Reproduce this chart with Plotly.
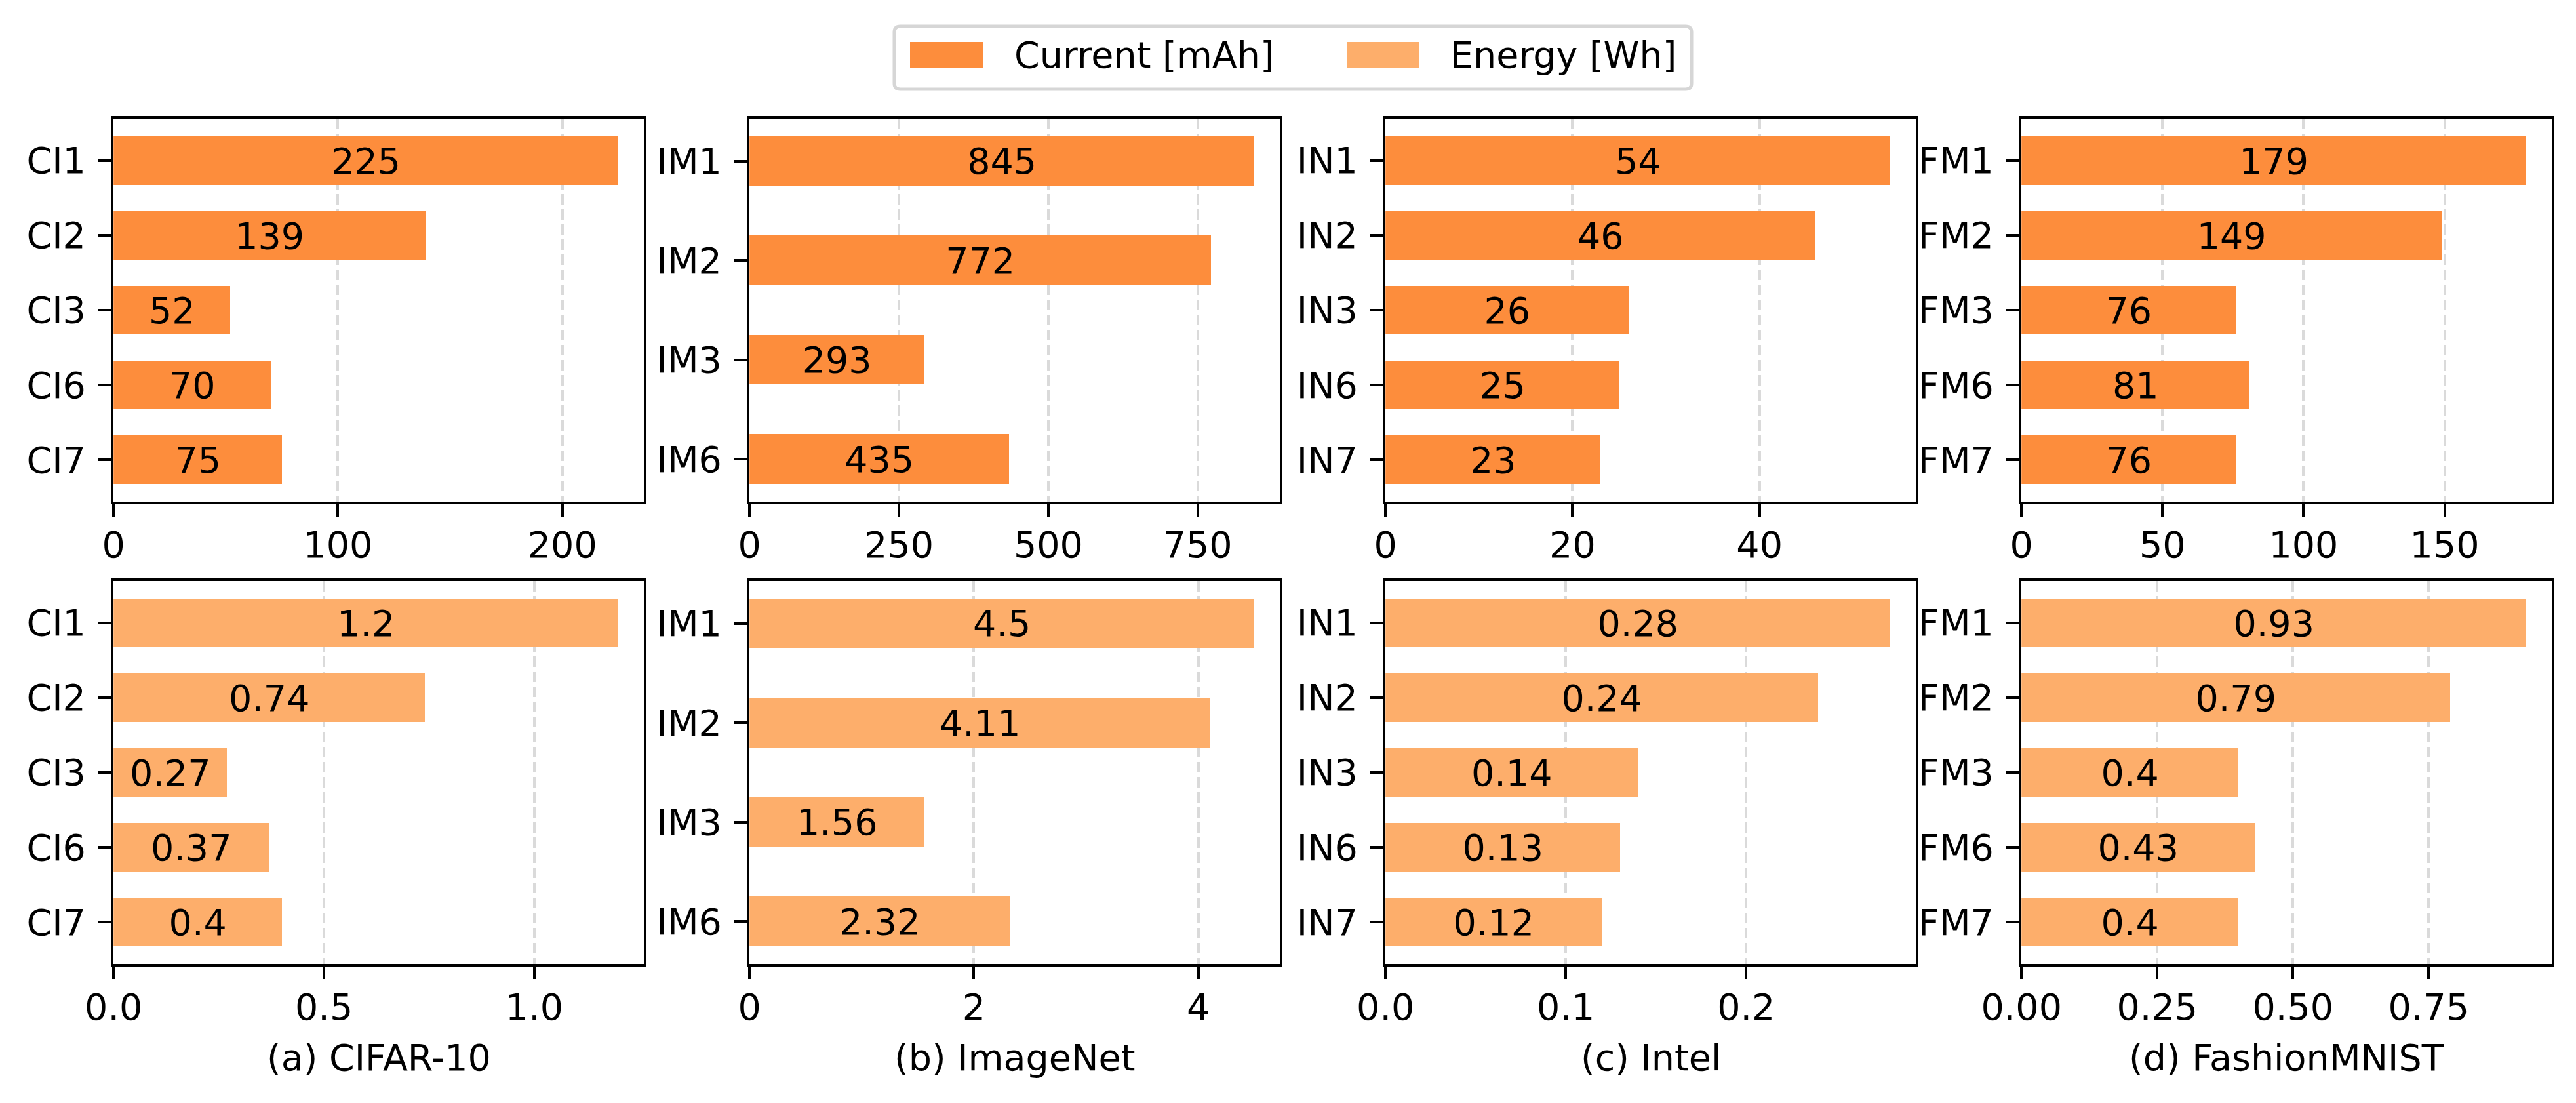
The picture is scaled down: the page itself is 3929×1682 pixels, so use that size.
import plotly.graph_objects as go

# ---------------- data ----------------
DATASET_LABELS = ["(a) CIFAR-10", "(b) ImageNet", "(c) Intel", "(d) FashionMNIST"]

CATS_CIFAR = ["CI1", "CI2", "CI3", "CI6", "CI7"]
CATS_IMAGENET = ["IM1", "IM2", "IM3", "IM6"]
CATS_INTEL = ["IN1", "IN2", "IN3", "IN6", "IN7"]
CATS_FASHION = ["FM1", "FM2", "FM3", "FM6", "FM7"]

CURRENT_CIFAR = [225, 139, 52, 70, 75]
CURRENT_IMAGENET = [845, 772, 293, 435]
CURRENT_INTEL = [54, 46, 26, 25, 23]
CURRENT_FASHION = [179, 149, 76, 81, 76]

ENERGY_CIFAR = [1.2, 0.74, 0.27, 0.37, 0.4]
ENERGY_IMAGENET = [4.5, 4.11, 1.56, 2.32]
ENERGY_INTEL = [0.28, 0.24, 0.14, 0.13, 0.12]
ENERGY_FASHION = [0.93, 0.79, 0.4, 0.43, 0.4]

CURRENT_TICKVALS = [[0, 100, 200], [0, 250, 500, 750], [0, 20, 40], [0, 50, 100, 150]]
CURRENT_TICKTEXT = [["0", "100", "200"], ["0", "250", "500", "750"], ["0", "20", "40"], ["0", "50", "100", "150"]]
ENERGY_TICKVALS = [[0, 0.5, 1.0], [0, 2, 4], [0, 0.1, 0.2], [0, 0.25, 0.5, 0.75]]
ENERGY_TICKTEXT = [["0.0", "0.5", "1.0"], ["0", "2", "4"], ["0.0", "0.1", "0.2"], ["0.00", "0.25", "0.50", "0.75"]]

SERIES_NAMES = ["Current [mAh]", "Energy [Wh]"]

CATS = [CATS_CIFAR, CATS_IMAGENET, CATS_INTEL, CATS_FASHION]
CURRENT = [CURRENT_CIFAR, CURRENT_IMAGENET, CURRENT_INTEL, CURRENT_FASHION]
ENERGY = [ENERGY_CIFAR, ENERGY_IMAGENET, ENERGY_INTEL, ENERGY_FASHION]

# ---------------- style / layout ----------------
W, H = 3929, 1682
FONT = "DejaVu Sans"
FS = 55.5
LW = 4.4
TICKLEN = 19
X_STANDOFF = -5
Y_STANDOFF = 8
COLORS = ["#fd8d3c", "#fdae6b"]
BAR_H = [0.65, 0.5, 0.65, 0.65]

COL_LEFT = [171, 1141, 2111, 3081]
COL_W = 813
ROW_TOP = [179, 884]
ROW_H = 588
LABEL_Y = 1612


def px_x(p):
    return p / W


def px_y(p):
    return 1 - p / H


fig = go.Figure()
layout = {}
inset = LW / 2

for row, (series, tv, tt) in enumerate([(CURRENT, CURRENT_TICKVALS, CURRENT_TICKTEXT),
                                        (ENERGY, ENERGY_TICKVALS, ENERGY_TICKTEXT)]):
    for col in range(4):
        idx = row * 4 + col + 1
        sfx = "" if idx == 1 else str(idx)
        vals = series[col]
        cats = CATS[col]
        h = BAR_H[col]
        fig.add_trace(go.Bar(
            x=vals, y=cats, orientation="h", width=h,
            marker=dict(color=COLORS[row], line=dict(width=0)),
            text=[str(v) for v in vals], textposition="inside",
            insidetextanchor="middle", textangle=0, constraintext="none",
            textfont=dict(family=FONT, size=FS, color="black"),
            xaxis="x" + sfx, yaxis="y" + sfx, showlegend=False,
            hoverinfo="skip",
        ))
        n = len(cats)
        pad = 0.05 * ((n - 1) + h)
        x0 = COL_LEFT[col]
        y0 = ROW_TOP[row]
        layout["xaxis" + sfx] = dict(
            domain=[px_x(x0 + inset), px_x(x0 + COL_W - inset)], anchor="y" + sfx,
            range=[0, 1.05 * max(vals)],
            tickmode="array", tickvals=tv[col], ticktext=tt[col],
            showgrid=True, gridcolor="#dadada", gridwidth=LW, griddash="16px,7px",
            zeroline=False, showline=True, mirror=True, linecolor="black", linewidth=LW,
            ticks="outside", ticklen=TICKLEN, tickwidth=LW, tickcolor="black",
            tickfont=dict(family=FONT, size=FS, color="black"),
            ticklabelstandoff=X_STANDOFF, automargin=False, fixedrange=True,
        )
        layout["yaxis" + sfx] = dict(
            domain=[px_y(y0 + ROW_H - inset), px_y(y0 + inset)], anchor="x" + sfx,
            type="category", categoryorder="array", categoryarray=cats,
            range=[(n - 1) + h / 2 + pad, -h / 2 - pad],
            showgrid=False, zeroline=False, showline=True, mirror=True,
            linecolor="black", linewidth=LW,
            ticks="outside", ticklen=TICKLEN, tickwidth=LW, tickcolor="black",
            tickfont=dict(family=FONT, size=FS, color="black"),
            ticklabelstandoff=Y_STANDOFF, automargin=False, fixedrange=True,
        )

annotations = []
for col in range(4):
    annotations.append(dict(
        x=px_x(COL_LEFT[col] + COL_W / 2), y=px_y(LABEL_Y), xref="paper", yref="paper",
        text=DATASET_LABELS[col], showarrow=False, xanchor="center", yanchor="middle",
        font=dict(family=FONT, size=FS, color="black"),
    ))

# legend (drawn to match the matplotlib legend frame)
LEG_L, LEG_R, LEG_T, LEG_B = 1364, 2580, 40, 136
LEG_CY = 83.5
PATCH_X = [1388, 2054]
PATCH_W = 111
PATCH_H = 39
TEXT_X = [1546, 2211]
r = 9
rx, ry = r / W, r / H
l, rr, t, b = px_x(LEG_L), px_x(LEG_R), px_y(LEG_T), px_y(LEG_B)
path = (f"M{l + rx},{t} L{rr - rx},{t} Q{rr},{t} {rr},{t - ry} "
        f"L{rr},{b + ry} Q{rr},{b} {rr - rx},{b} L{l + rx},{b} Q{l},{b} {l},{b + ry} "
        f"L{l},{t - ry} Q{l},{t} {l + rx},{t} Z")
shapes = [dict(type="path", path=path, xref="paper", yref="paper",
               line=dict(color="#d6d6d6", width=5), fillcolor="white", layer="above")]
for i in range(2):
    shapes.append(dict(type="rect", xref="paper", yref="paper",
                       x0=px_x(PATCH_X[i]), x1=px_x(PATCH_X[i] + PATCH_W),
                       y0=px_y(LEG_CY + PATCH_H / 2), y1=px_y(LEG_CY - PATCH_H / 2),
                       fillcolor=COLORS[i], line=dict(width=0), layer="above"))
    annotations.append(dict(
        x=px_x(TEXT_X[i]), y=px_y(LEG_CY), xref="paper", yref="paper",
        text=SERIES_NAMES[i], showarrow=False, xanchor="left", yanchor="middle",
        font=dict(family=FONT, size=FS, color="black"), borderpad=0,
    ))

fig.update_layout(
    template="none",
    width=W, height=H, autosize=False,
    margin=dict(l=0, r=0, t=0, b=0, pad=0),
    paper_bgcolor="white", plot_bgcolor="white",
    font=dict(family=FONT, size=FS, color="black"),
    showlegend=False, bargap=0,
    annotations=annotations, shapes=shapes,
    **layout,
)

fig.write_html("out.html")
